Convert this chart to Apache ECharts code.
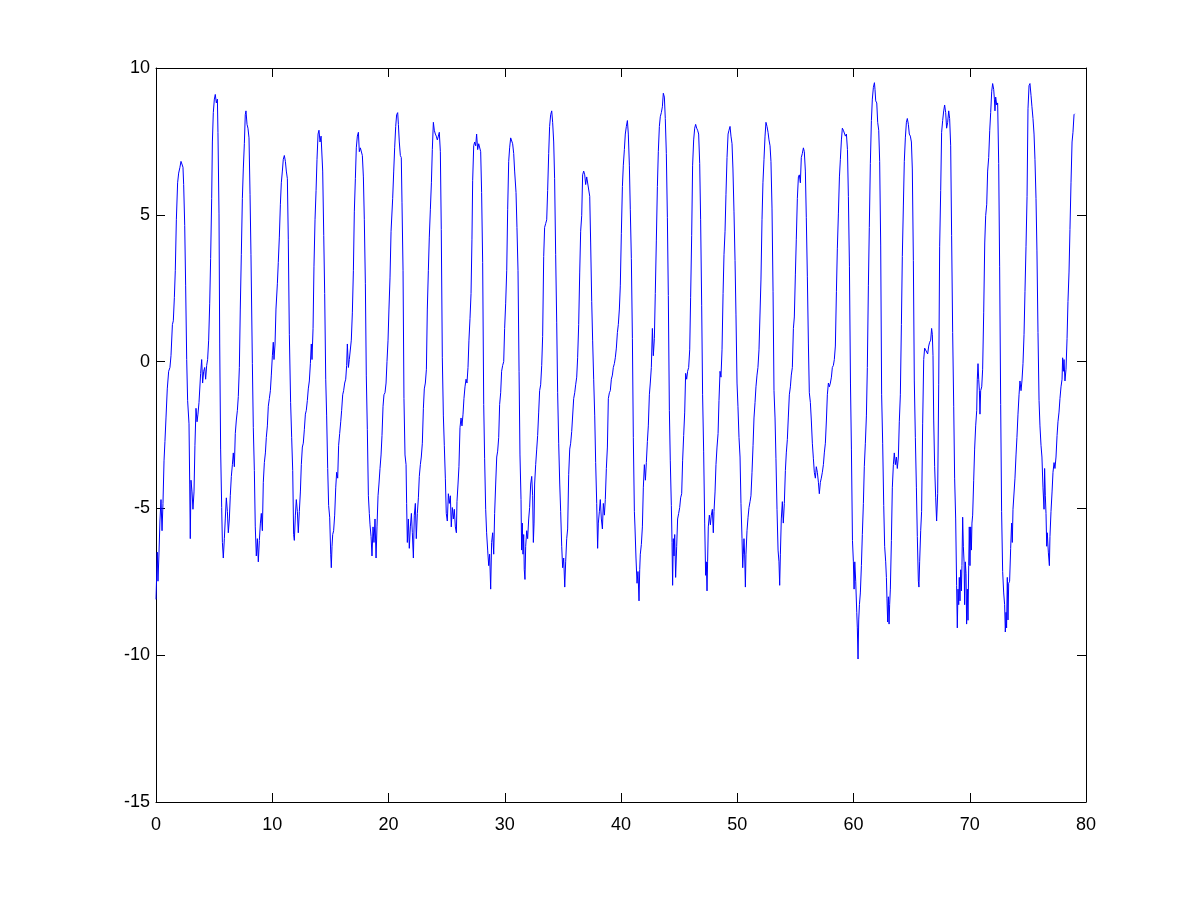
<!DOCTYPE html>
<html>
<head>
<meta charset="utf-8">
<script src="https://cdn.jsdelivr.net/npm/echarts@6/dist/echarts.min.js"></script>
<style>
html,body{margin:0;padding:0;background:#fff;}
#chart{width:1200px;height:901px;}
</style>
</head>
<body>
<div id="chart"></div>
<script>
// Tick values
var xTicks = [0, 10, 20, 30, 40, 50, 60, 70, 80];
var yTicks = [-15, -10, -5, 0, 5, 10];

// Signal samples [time, value], split by segment
var seg0to10 = [
[0.00,-8.10],[0.06,-8.08],[0.11,-6.49],[0.17,-7.48],[0.26,-6.49],[0.34,-5.43],[0.43,-4.70],[0.52,-5.76],[0.60,-4.83],[0.69,-3.38],[0.77,-2.72],[0.86,-1.92],[0.97,-0.93],[1.09,-0.33],[1.20,-0.20],[1.29,0.20],[1.41,1.26],[1.49,1.39],[1.58,2.19],[1.66,3.11],[1.75,4.83],[1.86,6.09],[1.95,6.42],[2.06,6.62],[2.15,6.82],[2.24,6.79],[2.32,6.62],[2.38,6.03],[2.47,4.64],[2.55,2.58],[2.64,0.07],[2.72,-1.32],[2.84,-2.12],[2.90,-4.17],[2.95,-6.03],[3.01,-4.04],[3.10,-4.44],[3.18,-5.03],[3.27,-4.44],[3.35,-2.85],[3.44,-1.59],[3.53,-2.05],[3.61,-1.79],[3.70,-1.39],[3.78,-1.39],[3.84,-0.40],[3.93,0.07],[4.01,-0.73],[4.10,-0.33],[4.19,-0.20],[4.27,-0.60],[4.36,-0.13],[4.44,0.07],[4.53,0.73],[4.62,1.99],[4.70,3.51],[4.79,5.56],[4.85,7.48],[4.93,8.48],[5.02,8.94],[5.10,9.10],[5.19,8.81],[5.28,8.94],[5.33,7.81],[5.42,5.03],[5.48,0.60],[5.56,-2.98],[5.65,-4.97],[5.71,-6.16],[5.79,-6.69],[5.88,-6.03],[5.96,-5.36],[6.05,-4.64],[6.14,-5.10],[6.22,-5.83],[6.31,-5.36],[6.39,-4.57],[6.48,-3.91],[6.57,-3.51],[6.65,-3.11],[6.74,-3.58],[6.82,-2.45],[6.91,-1.99],[7.00,-1.66],[7.08,-1.19],[7.17,-0.20],[7.25,1.79],[7.34,3.64],[7.43,5.56],[7.51,6.56],[7.60,7.42],[7.68,8.41],[7.74,8.54],[7.83,8.08],[7.91,7.95],[8.00,7.62],[8.09,5.70],[8.17,3.64],[8.29,-0.07],[8.37,-2.25],[8.46,-3.71],[8.54,-5.63],[8.63,-6.62],[8.72,-6.03],[8.80,-6.82],[8.89,-6.09],[8.98,-5.50],[9.06,-5.17],[9.15,-5.76],[9.23,-4.11],[9.32,-3.44],[9.41,-3.11],[9.49,-2.58],[9.58,-2.19],[9.66,-1.52],[9.75,-1.26],[9.84,-0.99],[9.92,-0.46],[10.01,0.20],[10.09,0.66]
];
var seg10to20 = [
[10.15,0.07],[10.24,0.60],[10.32,1.79],[10.44,2.65],[10.52,3.38],[10.61,4.24],[10.70,5.36],[10.78,6.09],[10.87,6.49],[10.95,6.89],[11.04,7.02],[11.13,6.82],[11.21,6.49],[11.30,6.23],[11.38,4.17],[11.47,0.93],[11.58,-1.39],[11.67,-2.58],[11.76,-3.71],[11.84,-5.89],[11.90,-6.09],[11.99,-5.23],[12.07,-4.70],[12.16,-5.10],[12.24,-5.83],[12.33,-5.10],[12.42,-4.44],[12.50,-3.51],[12.59,-2.91],[12.67,-2.78],[12.76,-2.32],[12.85,-1.79],[12.93,-1.66],[13.02,-1.32],[13.10,-0.93],[13.19,-0.66],[13.28,-0.07],[13.36,0.60],[13.42,0.07],[13.51,1.13],[13.59,3.25],[13.68,4.83],[13.77,5.83],[13.85,6.89],[13.94,7.75],[14.02,7.88],[14.11,7.48],[14.20,7.68],[14.28,7.62],[14.34,6.49],[14.43,4.30],[14.51,2.32],[14.60,-0.60],[14.68,-1.85],[14.77,-3.64],[14.85,-4.90],[14.94,-5.30],[15.03,-6.56],[15.08,-7.02],[15.14,-6.29],[15.20,-5.89],[15.28,-5.76],[15.37,-5.23],[15.46,-4.30],[15.54,-3.77],[15.63,-3.97],[15.71,-2.85],[15.80,-2.45],[15.89,-2.05],[15.97,-1.66],[16.06,-1.13],[16.14,-0.99],[16.23,-0.73],[16.32,-0.60],[16.40,-0.13],[16.46,0.60],[16.55,-0.20],[16.63,0.07],[16.72,0.07],[16.80,0.73],[16.89,1.66],[16.98,3.11],[17.06,5.10],[17.15,6.23],[17.23,7.28],[17.32,7.68],[17.41,7.81],[17.49,7.15],[17.58,7.28],[17.66,7.22],[17.75,7.02],[17.84,6.29],[17.92,4.83],[18.01,2.65],[18.09,-0.46],[18.18,-2.32],[18.27,-4.57],[18.35,-5.17],[18.41,-5.56],[18.50,-5.96],[18.58,-6.62],[18.67,-5.63],[18.75,-6.16],[18.84,-5.36],[18.93,-6.69],[19.01,-5.63],[19.10,-4.57],[19.18,-4.17],[19.27,-3.64],[19.36,-3.18],[19.44,-2.52],[19.53,-1.52],[19.61,-1.13],[19.70,-1.06],[19.79,-0.73],[19.87,0.00],[19.96,0.73],[20.04,1.79],[20.13,2.85],[20.22,4.44]
];
var seg20to31 = [
[20.36,5.56],[20.45,6.49],[20.53,7.28],[20.62,8.01],[20.70,8.41],[20.79,8.48],[20.85,8.08],[20.93,7.48],[21.02,7.02],[21.10,6.95],[21.16,5.43],[21.25,3.11],[21.33,-1.26],[21.42,-3.18],[21.51,-3.51],[21.56,-4.83],[21.62,-6.16],[21.71,-5.36],[21.79,-6.36],[21.88,-5.63],[21.97,-5.17],[22.05,-5.83],[22.14,-6.69],[22.22,-5.23],[22.31,-4.83],[22.39,-6.03],[22.48,-5.17],[22.57,-4.64],[22.65,-3.91],[22.74,-3.51],[22.82,-3.25],[22.91,-2.78],[23.00,-1.59],[23.08,-0.93],[23.17,-0.73],[23.26,-0.26],[23.34,1.79],[23.43,3.11],[23.51,4.24],[23.60,5.17],[23.69,6.09],[23.77,7.22],[23.86,8.15],[23.94,7.88],[24.03,7.75],[24.11,7.68],[24.20,7.55],[24.29,7.68],[24.37,7.81],[24.46,7.15],[24.54,4.50],[24.63,0.13],[24.72,-1.85],[24.80,-2.85],[24.89,-3.97],[24.97,-5.17],[25.06,-5.43],[25.15,-4.50],[25.23,-4.83],[25.32,-4.57],[25.40,-5.63],[25.49,-4.97],[25.58,-5.36],[25.66,-5.03],[25.75,-5.63],[25.84,-5.83],[25.89,-4.77],[25.98,-4.17],[26.06,-3.58],[26.15,-2.25],[26.24,-1.92],[26.32,-2.19],[26.41,-1.79],[26.49,-1.26],[26.58,-0.86],[26.67,-0.60],[26.75,-0.73],[26.84,-0.20],[26.92,0.73],[27.01,1.46],[27.10,2.32],[27.18,4.17],[27.24,6.16],[27.33,7.35],[27.41,7.48],[27.50,7.35],[27.58,7.75],[27.67,7.22],[27.76,7.42],[27.84,7.42],[27.93,7.15],[28.01,5.76],[28.10,3.38],[28.19,-1.46],[28.27,-3.31],[28.36,-5.03],[28.44,-5.83],[28.53,-6.42],[28.62,-6.95],[28.70,-6.56],[28.79,-7.75],[28.87,-6.16],[28.96,-5.83],[29.05,-6.56],[29.13,-5.17],[29.22,-4.17],[29.31,-3.25],[29.39,-3.05],[29.48,-2.58],[29.56,-1.46],[29.65,-1.06],[29.73,-0.33],[29.82,-0.13],[29.91,0.00],[29.99,1.13],[30.08,1.99],[30.17,3.11],[30.25,5.17],[30.34,6.82],[30.42,7.28],[30.51,7.62],[30.60,7.68],[30.68,7.42],[30.77,7.09],[30.85,6.49]
];
var seg31to41 = [
[30.97,5.76],[31.05,4.57],[31.14,3.11],[31.23,-0.33],[31.31,-3.18],[31.40,-4.70],[31.45,-6.42],[31.51,-5.50],[31.57,-6.56],[31.63,-5.89],[31.68,-7.09],[31.74,-7.42],[31.80,-6.29],[31.89,-5.76],[31.97,-6.03],[32.06,-5.36],[32.14,-4.97],[32.23,-4.17],[32.32,-3.91],[32.40,-4.57],[32.46,-6.16],[32.52,-5.50],[32.57,-4.17],[32.66,-3.51],[32.75,-2.98],[32.83,-2.52],[32.92,-1.72],[33.00,-0.99],[33.09,-0.79],[33.18,-0.13],[33.26,0.86],[33.35,3.58],[33.43,4.57],[33.52,4.70],[33.61,4.83],[33.69,5.83],[33.78,7.09],[33.86,8.01],[33.95,8.41],[34.04,8.54],[34.12,8.15],[34.21,7.48],[34.29,6.23],[34.38,3.64],[34.47,1.32],[34.55,-1.06],[34.64,-2.78],[34.73,-4.17],[34.81,-5.10],[34.90,-6.29],[34.98,-7.02],[35.07,-6.69],[35.16,-7.68],[35.24,-6.82],[35.33,-6.03],[35.41,-5.70],[35.50,-3.84],[35.59,-2.98],[35.67,-2.78],[35.76,-2.38],[35.84,-2.32],[35.93,-1.26],[36.02,-1.06],[36.10,-0.79],[36.19,-0.53],[36.27,0.13],[36.36,1.26],[36.45,3.05],[36.53,4.44],[36.62,4.97],[36.70,6.36],[36.79,6.49],[36.88,6.36],[36.96,6.03],[37.05,6.29],[37.13,6.23],[37.22,6.29],[37.31,5.63],[37.39,4.04],[37.48,2.05],[37.56,0.73],[37.65,-0.60],[37.74,-1.85],[37.82,-3.44],[37.91,-4.83],[37.99,-6.36],[38.05,-5.50],[38.14,-5.10],[38.22,-4.70],[38.31,-5.36],[38.40,-5.70],[38.48,-4.83],[38.57,-5.23],[38.65,-4.70],[38.74,-3.64],[38.83,-2.91],[38.91,-1.26],[39.00,-1.06],[39.08,-0.99],[39.17,-0.60],[39.26,-0.46],[39.34,-0.20],[39.43,-0.07],[39.51,0.13],[39.60,0.46],[39.69,0.99],[39.77,1.26],[39.86,1.79],[39.94,2.58],[40.03,4.37],[40.12,5.96],[40.20,6.69],[40.29,7.22],[40.37,7.75],[40.46,8.01],[40.55,8.21],[40.63,7.75],[40.72,6.69],[40.80,5.17],[40.89,3.51],[40.98,0.79],[41.06,-2.58],[41.15,-5.10]
];
var seg41to51 = [
[41.20,-5.60],[41.29,-6.69],[41.38,-7.55],[41.46,-7.15],[41.55,-8.15],[41.61,-7.09],[41.66,-6.56],[41.75,-6.23],[41.84,-5.63],[41.92,-4.30],[42.01,-3.51],[42.10,-4.04],[42.18,-3.44],[42.27,-2.72],[42.35,-2.19],[42.44,-1.13],[42.52,-0.73],[42.61,-0.20],[42.70,1.13],[42.78,0.20],[42.87,0.79],[42.95,2.32],[43.04,4.11],[43.13,5.96],[43.21,7.15],[43.30,8.01],[43.38,8.34],[43.47,8.48],[43.56,8.68],[43.64,9.14],[43.73,9.01],[43.81,8.28],[43.90,7.09],[43.99,4.90],[44.07,2.25],[44.16,-1.66],[44.24,-3.38],[44.33,-4.90],[44.39,-6.16],[44.44,-7.62],[44.50,-6.03],[44.56,-6.62],[44.62,-5.89],[44.70,-7.35],[44.79,-6.29],[44.87,-5.36],[44.96,-5.17],[45.05,-4.97],[45.13,-4.64],[45.22,-4.50],[45.30,-3.38],[45.39,-2.52],[45.48,-1.72],[45.56,-0.40],[45.65,-0.60],[45.73,-0.33],[45.82,-0.20],[45.91,0.40],[45.99,2.19],[46.08,4.30],[46.16,6.69],[46.25,7.55],[46.34,7.95],[46.42,8.08],[46.51,7.95],[46.59,7.88],[46.68,7.75],[46.77,6.75],[46.85,4.83],[46.94,1.92],[47.02,-1.13],[47.11,-3.05],[47.20,-5.50],[47.28,-7.28],[47.34,-6.82],[47.40,-7.81],[47.45,-6.82],[47.51,-5.63],[47.60,-5.23],[47.69,-5.56],[47.77,-5.23],[47.86,-5.03],[47.94,-5.83],[48.00,-5.10],[48.09,-4.44],[48.17,-3.51],[48.26,-2.91],[48.35,-2.45],[48.43,-1.32],[48.52,-0.33],[48.60,-0.53],[48.69,0.40],[48.78,2.32],[48.86,3.64],[48.95,4.44],[49.03,5.70],[49.12,6.95],[49.21,7.75],[49.29,7.88],[49.38,8.01],[49.46,7.68],[49.55,7.42],[49.63,6.56],[49.72,5.10],[49.81,3.44],[49.89,1.59],[49.98,-0.73],[50.06,-1.52],[50.15,-2.58],[50.24,-3.25],[50.32,-4.83],[50.41,-6.03],[50.47,-7.02],[50.52,-6.56],[50.58,-6.03],[50.64,-6.62],[50.70,-7.68],[50.75,-6.56],[50.84,-5.76],[50.93,-5.30],[51.01,-4.97],[51.10,-4.77],[51.18,-4.57],[51.27,-3.77],[51.36,-2.85],[51.44,-1.92]
];
var seg51to62 = [
[51.53,-1.39],[51.61,-0.86],[51.70,-0.46],[51.78,-0.20],[51.87,0.40],[51.96,0.46],[52.04,2.78],[52.13,4.83],[52.21,6.09],[52.30,6.89],[52.39,7.68],[52.47,8.15],[52.56,8.01],[52.65,7.81],[52.73,7.55],[52.82,7.35],[52.90,6.82],[52.99,5.23],[53.08,2.38],[53.16,-0.99],[53.25,-1.92],[53.33,-3.31],[53.42,-5.03],[53.51,-6.42],[53.59,-6.82],[53.65,-7.62],[53.71,-6.56],[53.79,-5.36],[53.88,-4.77],[53.96,-5.50],[54.05,-4.83],[54.14,-3.71],[54.22,-3.11],[54.31,-2.65],[54.39,-1.92],[54.48,-1.13],[54.57,-0.86],[54.65,-0.46],[54.74,-0.20],[54.83,1.13],[54.91,1.52],[55.00,2.98],[55.08,4.17],[55.17,5.56],[55.26,6.29],[55.34,6.36],[55.43,6.09],[55.51,6.95],[55.60,7.09],[55.69,7.28],[55.77,7.15],[55.86,6.49],[55.94,4.90],[56.03,2.91],[56.12,0.60],[56.20,-1.06],[56.29,-1.39],[56.37,-1.99],[56.46,-2.78],[56.55,-3.31],[56.63,-3.77],[56.72,-3.97],[56.80,-3.58],[56.89,-3.77],[56.98,-4.11],[57.06,-4.50],[57.15,-4.11],[57.23,-3.97],[57.32,-3.77],[57.41,-3.51],[57.49,-3.11],[57.58,-2.78],[57.67,-1.99],[57.75,-1.13],[57.84,-0.73],[57.92,-0.86],[58.01,-0.73],[58.10,-0.53],[58.18,-0.20],[58.27,-0.13],[58.35,0.07],[58.44,0.53],[58.53,2.38],[58.61,3.84],[58.70,5.03],[58.79,6.29],[58.87,6.89],[58.96,7.55],[59.04,7.95],[59.13,7.88],[59.22,7.88],[59.30,7.68],[59.39,7.75],[59.48,7.22],[59.56,5.63],[59.65,3.25],[59.74,-0.73],[59.82,-2.98],[59.91,-6.09],[59.99,-6.82],[60.05,-7.75],[60.11,-6.82],[60.19,-7.48],[60.28,-8.54],[60.33,-9.07],[60.39,-10.13],[60.45,-8.80],[60.51,-8.28],[60.59,-7.88],[60.68,-6.95],[60.76,-5.89],[60.85,-4.83],[60.93,-3.58],[61.02,-2.78],[61.11,-1.85],[61.19,-0.20],[61.28,2.58],[61.36,4.57],[61.45,6.75],[61.54,8.21],[61.62,8.94],[61.71,9.34],[61.80,9.50]
];
var seg62to72 = [
[61.85,9.27],[61.91,8.88],[62.00,8.81],[62.08,8.15],[62.17,7.88],[62.25,6.82],[62.34,3.97],[62.42,-1.13],[62.51,-2.78],[62.60,-4.90],[62.68,-6.29],[62.77,-6.82],[62.83,-7.35],[62.88,-8.08],[62.94,-8.87],[63.00,-8.01],[63.06,-8.94],[63.11,-8.28],[63.17,-7.75],[63.26,-6.09],[63.34,-4.30],[63.43,-3.51],[63.51,-3.11],[63.60,-3.51],[63.69,-3.25],[63.77,-3.64],[63.86,-3.25],[63.94,-2.05],[64.03,-1.13],[64.12,1.26],[64.20,3.58],[64.29,5.30],[64.37,6.82],[64.46,7.62],[64.55,8.15],[64.63,8.28],[64.72,8.08],[64.80,7.75],[64.89,7.68],[64.98,7.48],[65.06,6.56],[65.15,3.44],[65.23,-0.66],[65.32,-2.58],[65.41,-4.30],[65.49,-5.96],[65.58,-7.48],[65.63,-7.68],[65.69,-6.82],[65.78,-5.76],[65.86,-5.10],[65.95,-2.12],[66.04,0.07],[66.12,0.46],[66.21,0.40],[66.29,0.46],[66.38,0.26],[66.47,0.53],[66.55,0.66],[66.64,0.73],[66.72,1.13],[66.78,0.93],[66.84,0.20],[66.90,-1.99],[66.98,-3.58],[67.07,-4.64],[67.15,-5.43],[67.24,-4.50],[67.33,-0.79],[67.41,3.91],[67.50,5.83],[67.58,7.81],[67.67,8.21],[67.76,8.54],[67.84,8.74],[67.93,8.48],[68.01,7.95],[68.10,8.15],[68.19,8.54],[68.27,8.28],[68.36,7.35],[68.44,4.30],[68.53,0.99],[68.62,-1.52],[68.70,-3.97],[68.79,-5.36],[68.87,-7.62],[68.93,-9.07],[68.99,-7.75],[69.05,-8.28],[69.10,-7.35],[69.16,-8.15],[69.22,-7.09],[69.28,-7.81],[69.33,-6.95],[69.39,-5.30],[69.45,-6.29],[69.51,-6.82],[69.56,-8.28],[69.62,-6.82],[69.68,-7.22],[69.73,-8.94],[69.79,-7.75],[69.85,-8.81],[69.91,-6.95],[69.96,-5.63],[70.02,-6.95],[70.08,-5.63],[70.14,-6.42],[70.19,-5.50],[70.25,-5.23],[70.34,-4.04],[70.42,-2.98],[70.51,-2.19],[70.60,-1.66],[70.65,-0.60],[70.71,-0.07],[70.77,-0.60],[70.83,-0.99],[70.88,-1.79],[70.94,-0.99],[71.03,-0.86],[71.11,-0.26],[71.20,1.66],[71.29,4.04],[71.37,4.97],[71.46,5.36],[71.54,6.49],[71.63,6.95],[71.72,7.88],[71.80,8.48],[71.89,9.21],[71.97,9.47],[72.06,9.27],[72.12,8.94]
];
var seg72to80 = [
[72.17,8.54],[72.23,9.01],[72.32,8.74],[72.40,8.81],[72.49,6.75],[72.57,3.25],[72.66,-1.46],[72.74,-5.10],[72.83,-7.15],[72.92,-7.88],[73.00,-8.28],[73.06,-9.21],[73.12,-8.54],[73.17,-9.07],[73.23,-7.35],[73.29,-8.80],[73.35,-7.55],[73.43,-7.48],[73.52,-6.36],[73.60,-5.50],[73.66,-6.16],[73.72,-5.03],[73.81,-4.97],[73.89,-3.97],[73.98,-3.18],[74.06,-2.58],[74.15,-1.79],[74.24,-1.13],[74.32,-0.66],[74.41,-0.99],[74.49,-0.66],[74.58,-0.07],[74.67,0.93],[74.75,2.38],[74.84,3.91],[74.93,5.63],[75.01,8.61],[75.10,9.40],[75.18,9.47],[75.27,9.07],[75.35,8.68],[75.44,8.28],[75.53,7.75],[75.61,6.89],[75.70,5.56],[75.78,3.77],[75.87,0.99],[75.96,-1.32],[76.04,-2.19],[76.13,-2.85],[76.21,-3.25],[76.30,-4.30],[76.39,-5.03],[76.44,-3.64],[76.50,-4.57],[76.56,-5.17],[76.62,-6.29],[76.67,-5.83],[76.76,-6.49],[76.85,-6.95],[76.90,-5.96],[76.99,-5.10],[77.08,-4.44],[77.16,-3.77],[77.25,-3.44],[77.33,-3.64],[77.42,-3.25],[77.51,-2.52],[77.59,-2.05],[77.68,-1.72],[77.76,-1.26],[77.85,-0.86],[77.94,-0.60],[77.99,0.13],[78.05,-0.33],[78.11,0.07],[78.19,-0.66],[78.28,-0.26],[78.37,0.79],[78.45,2.05],[78.54,3.05],[78.62,4.50],[78.71,6.09],[78.80,7.48],[78.88,7.81],[78.97,8.41],[79.03,8.44]
];

var signal = [].concat(seg0to10, seg10to20, seg20to31, seg31to41, seg41to51, seg51to62, seg62to72, seg72to80);

var FONT = '"Liberation Sans", Arial, Helvetica, sans-serif';
var labelStyle = { color: '#000', fontSize: 18, fontFamily: FONT };
var lineStyle = { color: '#000', width: 1 };

function xAx(pos, showLabel) {
  return {
    type: 'value', position: pos, min: xTicks[0], max: xTicks[xTicks.length - 1], interval: xTicks[1] - xTicks[0],
    axisLine: { show: true, onZero: false, lineStyle: lineStyle },
    axisTick: { show: true, inside: true, length: 9, lineStyle: lineStyle },
    axisLabel: Object.assign({ show: showLabel, margin: 14 }, labelStyle),
    splitLine: { show: false }
  };
}
function yAx(pos, showLabel) {
  return {
    type: 'value', position: pos, min: yTicks[0], max: yTicks[yTicks.length - 1], interval: yTicks[1] - yTicks[0],
    axisLine: { show: true, onZero: false, lineStyle: lineStyle },
    axisTick: { show: true, inside: true, length: 9, lineStyle: lineStyle },
    axisLabel: Object.assign({ show: showLabel, margin: 6, padding: [4, 0, 0, 0] }, labelStyle),
    splitLine: { show: false }
  };
}

var chart = echarts.init(document.getElementById('chart'), null, { renderer: 'canvas', width: 1200, height: 901 });
chart.setOption({
  backgroundColor: '#ffffff',
  animation: false,
  grid: { left: 156, top: 68, width: 930, height: 734, containLabel: false },
  xAxis: [xAx('bottom', true), xAx('top', false)],
  yAxis: [yAx('left', true), yAx('right', false)],
  series: [{
    type: 'line',
    xAxisIndex: 0, yAxisIndex: 0,
    data: signal,
    showSymbol: false,
    symbol: 'none',
    lineStyle: { color: '#0000ff', width: 1 },
    itemStyle: { color: '#0000ff' }
  }]
});
</script>
</body>
</html>
